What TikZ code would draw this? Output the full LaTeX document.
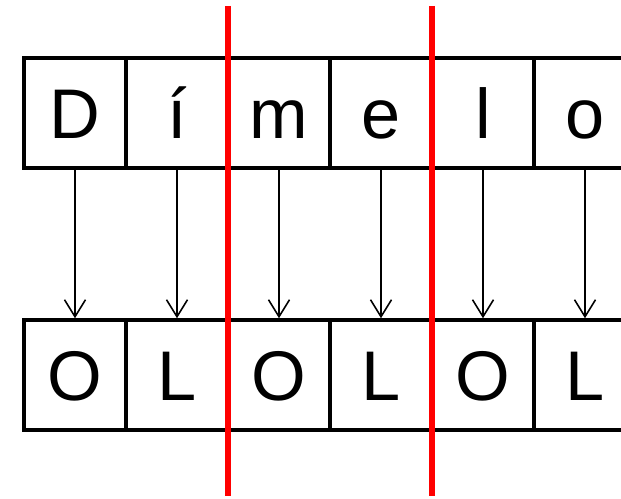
\documentclass[tikz,border=0pt]{standalone}
\usepackage{fontspec}
\setmainfont{Liberation Sans}
\usetikzlibrary{arrows.meta}
\tikzstyle{cell} = [rectangle, minimum width=2.04cm, minimum height=2.2cm, inner sep=0pt, text height=28.6pt, text depth=0pt, text centered, draw=black, line width=2pt, font=\fontsize{40}{48}\selectfont]
\tikzstyle{cut} = [red, line width=2.9pt]
\begin{document}
\begin{tikzpicture}
        \useasboundingbox (0,0) rectangle (12.42,9.96);
        \node[cell] (t1) at (1.50,7.70) {D};
        \node[cell] (t2) at (3.54,7.70) {í};
        \node[cell] (t3) at (5.58,7.70) {m};
        \node[cell] (t4) at (7.62,7.70) {e};
        \node[cell] (t5) at (9.66,7.70) {l};
        \node[cell] (t6) at (11.70,7.70) {o};
        \node[cell] (b1) at (1.50,2.46) {O};
        \node[cell] (b2) at (3.54,2.46) {L};
        \node[cell] (b3) at (5.58,2.46) {O};
        \node[cell] (b4) at (7.62,2.46) {L};
        \node[cell] (b5) at (9.66,2.46) {O};
        \node[cell] (b6) at (11.70,2.46) {L};
        \begin{scope}[-{Straight Barb[length=0.34cm,width=0.42cm]}, line width=0.9pt]
            \draw (t1) -- (b1);
            \draw (t2) -- (b2);
            \draw (t3) -- (b3);
            \draw (t4) -- (b4);
            \draw (t5) -- (b5);
            \draw (t6) -- (b6);
        \end{scope}
        \coordinate (c1a) at (4.56,9.84);
        \coordinate (c1b) at (4.56,0.04);
        \coordinate (c2a) at (8.64,9.84);
        \coordinate (c2b) at (8.64,0.04);
        \draw[cut] (c1a) -- (c1b);
        \draw[cut] (c2a) -- (c2b);
    \end{tikzpicture}
\end{document}
